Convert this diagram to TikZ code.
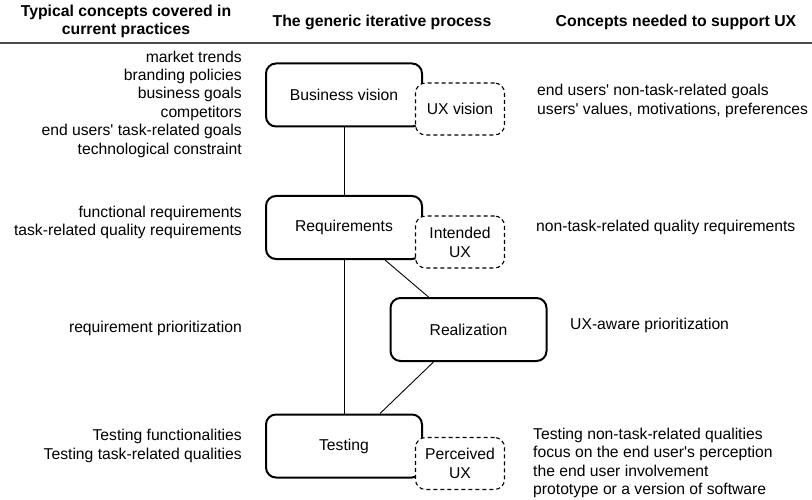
\documentclass[tikz,border=0pt]{standalone}
\usepackage{fontspec}
\setmainfont{Liberation Sans}[Ligatures=TeXOff]
\usetikzlibrary{calc}

\begin{document}
\begin{tikzpicture}[x=1pt,y=-1pt,
	phase/.style={draw,line width=2pt,rounded corners=10pt,minimum width=156pt,minimum height=63pt,font=\fontsize{15.7}{18}\selectfont},
	uxbox/.style={draw,dashed,dash pattern=on 4pt off 3pt,line width=1.1pt,fill=white,rounded corners=10pt,minimum width=89pt,minimum height=52pt,align=center,inner sep=0pt,font=\fontsize{15.7}{19}\selectfont},
	concept/.style={inner sep=0pt,font=\fontsize{15.7}{18.4}\selectfont},
	heading/.style={inner sep=0pt,align=center,font=\bfseries\fontsize{15.8}{18}\selectfont}]
	\useasboundingbox (0,0) rectangle (812,500);

	% column headings
	\draw (126,21) node (hcur) [heading] {Typical concepts covered in\\current practices};
	\draw (382,22) node (hproc) [heading] {The generic iterative process};
	\draw (676,22) node (hux) [heading] {Concepts needed to support UX};
	\coordinate (rulel) at (0,43);
	\coordinate (ruler) at (812,43);
	\draw[line width=2pt,black!70] (rulel) -- (ruler);

	% the process
	\draw (344,95) node (vision) [phase] {Business vision};
	\draw (460,109) node (uxvision) [uxbox] {UX vision};
	\draw (344,227.5) node (req) [phase] {Requirements};
	\draw (460,242) node (intux) [uxbox] {Intended\\UX};
	\draw (468.5,329.5) node (real) [phase] {Realization};
	\draw (344,446) node (test) [phase] {Testing};
	\draw (460,463.5) node (percux) [uxbox] {Perceived\\UX};

	\draw[line width=0.9pt] (vision) -- (req);
	\draw[line width=0.9pt] (req) -- (test);
	\draw[line width=0.9pt] ([xshift=-38pt]req.south east) -- ([xshift=39pt]real.north west);
	\draw[line width=0.9pt] ([xshift=44pt]real.south west) -- ([xshift=-43pt]test.north east);

	% current practices
	\node (curvision) [concept,anchor=east,align=right] at (242,104) {market trends\\branding policies\\business goals\\competitors\\end users' task-related goals\\technological constraint};
	\node (curreq) [concept,anchor=east,align=right] at (242,222.5) {functional requirements\\task-related quality requirements};
	\node (curreal) [concept,anchor=east,align=right] at (242,328) {requirement prioritization};
	\node (curtest) [concept,anchor=east,align=right] at (242,446) {Testing functionalities\\Testing task-related qualities};

	% needed for UX
	\node (uxconvision) [concept,anchor=west,align=left] at (537,101) {end users' non-task-related goals\\users' values, motivations, preferences};
	\node (uxconreq) [concept,anchor=west,align=left] at (536,227) {non-task-related quality requirements};
	\node (uxconreal) [concept,anchor=west,align=left] at (570,325) {UX-aware prioritization};
	\node (uxcontest) [concept,anchor=west,align=left] at (533,463) {Testing non-task-related qualities\\focus on the end user's perception\\the end user involvement\\prototype or a version of software};
\end{tikzpicture}
\end{document}
